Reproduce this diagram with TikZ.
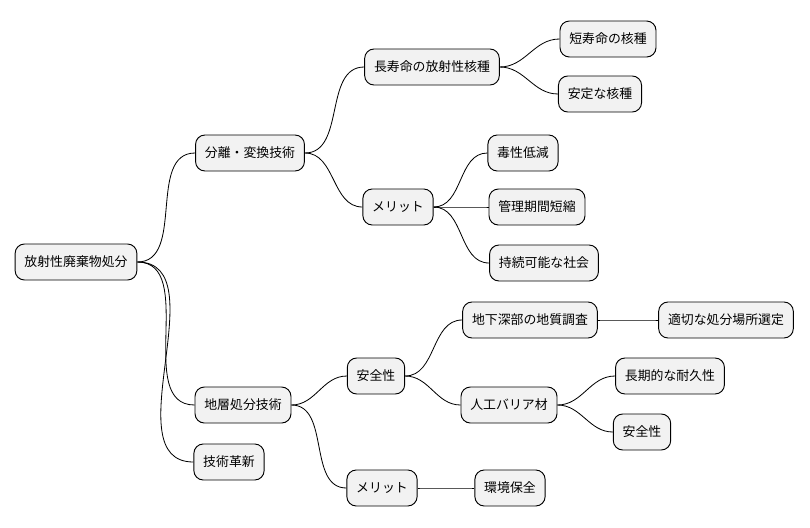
\documentclass[tikz,border=0pt]{standalone}
\usepackage{fontspec}
\setmainfont{Noto Sans CJK JP}
\tikzset{
  topic/.style={draw=black,fill=gray!10,rounded corners=8pt,line width=0.8pt,
    minimum height=1.08cm,inner xsep=0.28cm,font=\fontsize{11}{13}\selectfont},
  branch/.style={line width=0.7pt,out=0,in=180}
}
\begin{document}
\begin{tikzpicture}[x=0.03cm,y=-0.03cm]
\useasboundingbox (0,0) rectangle (810,527);

% root
\node[topic] (root) at (76,262) {放射性廃棄物処分};

% separation branch
\node[topic] (sep) at (250,153) {分離・変換技術};
\node[topic] (long) at (432,67) {長寿命の放射性核種};
\node[topic] (short) at (608,39) {短寿命の核種};
\node[topic] (stable) at (600,94) {安定な核種};
\node[topic] (meritA) at (398,207) {メリット};
\node[topic] (tox) at (523,153) {毒性低減};
\node[topic] (period) at (537,207) {管理期間短縮};
\node[topic] (society) at (544,263) {持続可能な社会};

% geological branch
\node[topic] (geo) at (243,405) {地層処分技術};
\node[topic] (safe) at (376,376) {安全性};
\node[topic] (survey) at (530,320) {地下深部の地質調査};
\node[topic] (site) at (726,320) {適切な処分場所選定};
\node[topic] (barrier) at (509,405) {人工バリア材};
\node[topic] (durable) at (670,376) {長期的な耐久性};
\node[topic] (safeB) at (642,432) {安全性};
\node[topic] (meritB) at (382,488) {メリット};
\node[topic] (env) at (510,488) {環境保全};

\node[topic] (innov) at (229,462) {技術革新};

% connectors
\foreach \a/\b in {root/sep,root/geo,root/innov,sep/long,sep/meritA,
  long/short,long/stable,meritA/tox,meritA/period,meritA/society,
  geo/safe,geo/meritB,safe/survey,safe/barrier,survey/site,
  barrier/durable,barrier/safeB,meritB/env}
  \draw[branch] (\a.east) to (\b.west);
\end{tikzpicture}
\end{document}
